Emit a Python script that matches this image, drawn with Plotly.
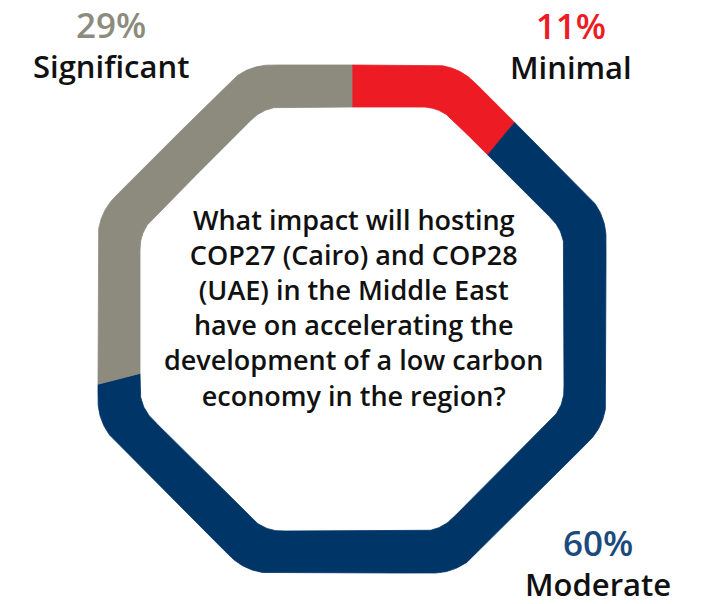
import numpy as np
import plotly.graph_objects as go

# Survey answers, clockwise from 12 o'clock
categories = ["Minimal", "Moderate", "Significant"]
shares = [11, 60, 29]
question = [
    "What impact will hosting",
    "COP27 (Cairo) and COP28",
    "(UAE) in the Middle East",
    "have on accelerating the",
    "development of a low carbon",
    "economy in the region?",
]

ring_colors = ["#ED1C24", "#003567", "#8C8B7E"]
pct_colors = ["#ED1C24", "#1B4A7D", "#8C8B7E"]

W, H = 710, 604
CX, CY = 352, 319          # ring centre in pixels from the top-left corner
OUT_APO, OUT_R = 254, 58   # outer octagon apothem / corner radius
IN_APO, IN_R = 212, 42     # inner octagon apothem / corner radius


def rounded_octagon(apothem, radius, n=4000):
    """Closed outline of a flat-topped octagon with rounded corners,
    returned as (clockwise angle from top in degrees, radius) samples."""
    core = apothem - radius
    circ = core / np.cos(np.pi / 8)
    xs, ys = [], []
    for j in range(8):
        va = np.pi / 8 + j * np.pi / 4
        vx, vy = circ * np.cos(va), circ * np.sin(va)
        psi = np.linspace(j * np.pi / 4, (j + 1) * np.pi / 4, 80)
        xs.append(vx + radius * np.cos(psi))
        ys.append(vy + radius * np.sin(psi))
    x = np.concatenate(xs)
    y = np.concatenate(ys)
    x = np.append(x, x[0])
    y = np.append(y, y[0])
    # resample evenly along the outline so straight edges stay straight
    seg = np.hypot(np.diff(x), np.diff(y))
    s = np.concatenate([[0], np.cumsum(seg)])
    su = np.linspace(0, s[-1], n)
    x = np.interp(su, s, x)
    y = np.interp(su, s, y)
    theta = np.degrees(np.arctan2(x, y)) % 360
    rho = np.hypot(x, y)
    order = np.argsort(theta)
    return theta[order], rho[order]


outer = rounded_octagon(OUT_APO, OUT_R)
inner = rounded_octagon(IN_APO, IN_R)


def ring_segment(t0, t1, n=600):
    t = np.linspace(t0, t1, n)
    ro = np.interp(t % 360, outer[0], outer[1], period=360)
    ri = np.interp(t % 360, inner[0], inner[1], period=360)
    tr = np.radians(t)
    xo, yo = ro * np.sin(tr), ro * np.cos(tr)
    xi, yi = ri * np.sin(tr), ri * np.cos(tr)
    x = np.concatenate([xo, xi[::-1], xo[:1]])
    y = np.concatenate([yo, yi[::-1], yo[:1]])
    return x, y


fig = go.Figure()
total = sum(shares)
start = 0.0
for cat, val, col in zip(categories, shares, ring_colors):
    span = 360.0 * val / total
    x, y = ring_segment(start, start + span)
    fig.add_trace(go.Scatter(
        x=x, y=y, mode="lines", fill="toself", fillcolor=col,
        line=dict(color=col, width=0.8), name=cat, hoverinfo="name",
    ))
    start += span


def px(xp, yp):
    """Pixel position (from top-left) to data coordinates."""
    return xp - CX, CY - yp


FONT = "Open Sans"
# centre of each two-line label block (percentage over category name)
label_pos = {
    "Minimal": (571, 45),
    "Moderate": (598, 562),
    "Significant": (111, 44),
}
for cat, val, col in zip(categories, shares, pct_colors):
    lx, ly = label_pos[cat]
    ax, ay = px(lx, ly)
    text = f"<span style='font-size:35px;color:{col}'>{val}%</span><br>{cat}"
    fig.add_annotation(x=ax, y=ay, text=text, showarrow=False, borderpad=0,
                       xanchor="center", yanchor="middle", align="center",
                       font=dict(family=FONT, size=31, color="#111111", weight=600))

qx, qy = px(353, 307)
fig.add_annotation(x=qx, y=qy, text="<br>".join(question), showarrow=False,
                   xanchor="center", yanchor="middle", align="center",
                   font=dict(family=FONT, size=27, color="#111111", weight=600))

fig.update_xaxes(range=[-CX, W - CX], visible=False, fixedrange=True)
fig.update_yaxes(range=[CY - H, CY], visible=False, fixedrange=True)
fig.update_layout(
    width=W, height=H,
    margin=dict(l=0, r=0, t=0, b=0),
    paper_bgcolor="white", plot_bgcolor="white",
    showlegend=False,
)
fig.write_html("out.html")
